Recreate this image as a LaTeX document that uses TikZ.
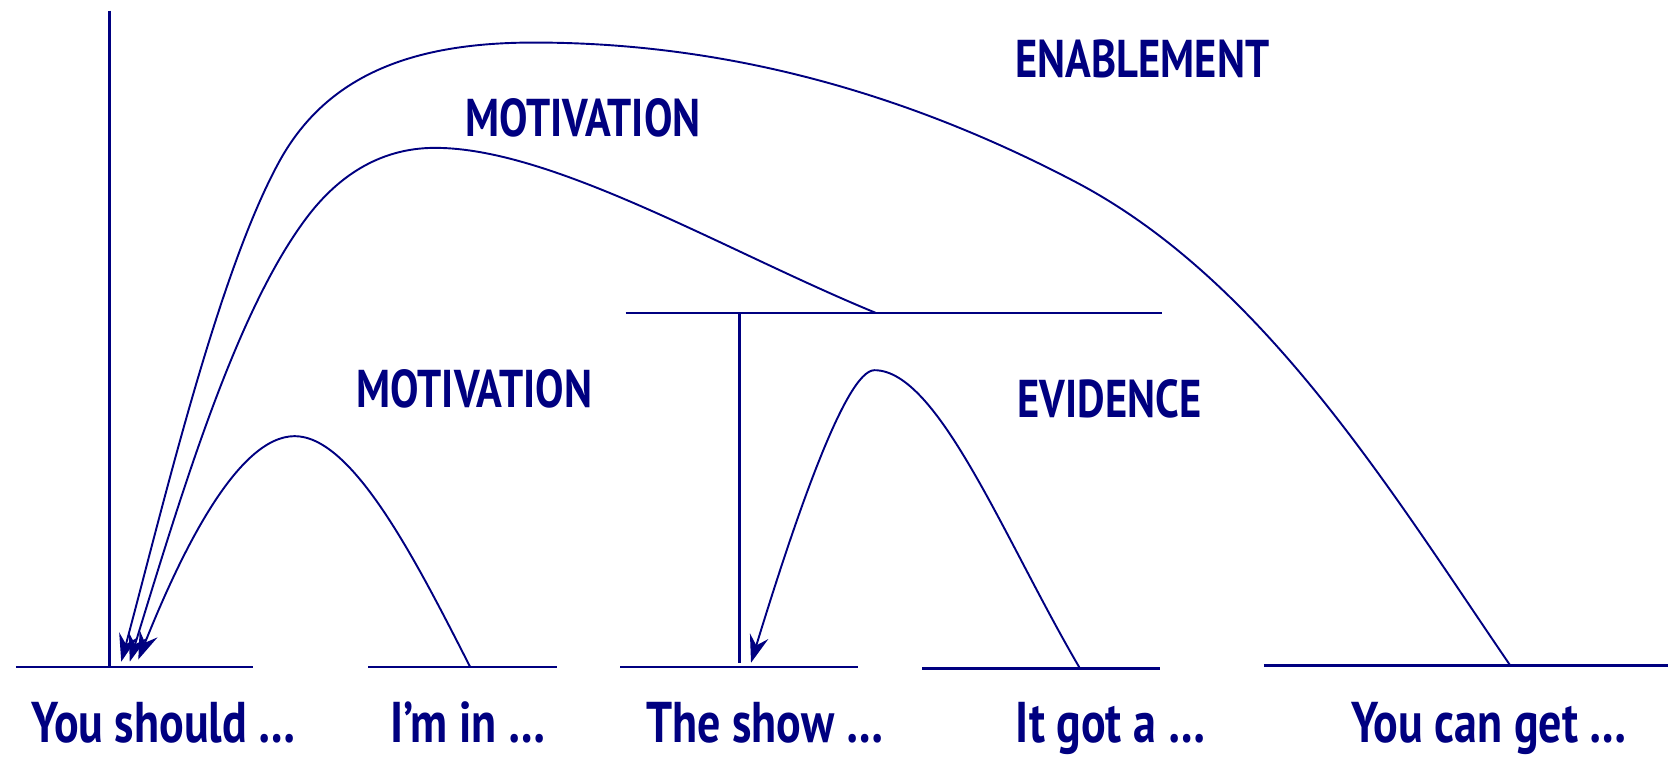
\documentclass[tikz,border=0pt]{standalone}
\usepackage{fontspec}
\setmainfont{PT Sans}[FakeStretch=0.8]
\usetikzlibrary{arrows.meta}
\definecolor{navyb}{RGB}{0,0,128}
\begin{document}
\begin{tikzpicture}[x=0.5pt,y=-0.5pt,
  lbl/.style={font=\bfseries\fontsize{25}{28}\selectfont, text=navyb, inner sep=0pt, anchor=base},
  blbl/.style={lbl, font=\bfseries\fontsize{27}{30}\selectfont},
  baseln/.style={draw=navyb, line width=1.4pt},
  vline/.style={draw=navyb, line width=1.1pt},
  rel/.style={draw=navyb, line width=0.9pt, -{Stealth[length=13pt,width=9pt,inset=4.5pt]}}]
\useasboundingbox (0,0) rectangle (1568,711);
% labels
\node[blbl] (t1) at (154,698) {You should \dots};
\node[blbl] (t2) at (440,698) {I’m in \dots};
\node[blbl] (t3) at (719,698) {The show \dots};
\node[blbl] (t4) at (1044,698) {It got a \dots};
\node[blbl] (t5) at (1400,698) {You can get \dots};
\node[lbl] (l1) at (1074,73) {ENABLEMENT};
\node[lbl] (l2) at (548,128) {MOTIVATION};
\node[lbl] (l3) at (446,383) {MOTIVATION};
\node[lbl] (l4) at (1043,392) {EVIDENCE};
% baselines
\coordinate (b1a) at (15,627); \coordinate (b1b) at (238,627);
\coordinate (b2a) at (346,627); \coordinate (b2b) at (524,627);
\coordinate (b3a) at (583,627); \coordinate (b3b) at (807,627);
\coordinate (b4a) at (867,628); \coordinate (b4b) at (1090,628);
\coordinate (b5a) at (1188,626); \coordinate (b5b) at (1568,626);
\draw[baseln] (b1a) -- (b1b);
\draw[baseln] (b2a) -- (b2b);
\draw[baseln] (b3a) -- (b3b);
\draw[baseln] (b4a) -- (b4b);
\draw[baseln] (b5a) -- (b5b);
% verticals and span line
\coordinate (v1t) at (103,10); \coordinate (v1b) at (103,627);
\draw[vline] (v1t) -- (v1b);
\coordinate (hsa) at (588,294); \coordinate (hsb) at (1092,294);
\draw[vline] (hsa) -- (hsb);
\coordinate (v2t) at (695,294); \coordinate (v2b) at (695,623);
\draw[vline] (v2t) -- (v2b);
% relation end points
\coordinate (e1s) at (1420,626); \coordinate (e1e) at (114,622);
\coordinate (m1s) at (823,294);  \coordinate (m1e) at (122,622);
\coordinate (m2s) at (442,627);  \coordinate (m2e) at (130,620);
\coordinate (evs) at (1015,628); \coordinate (eve) at (706,623);
% relations
\draw[rel] (e1s) .. controls (1307,461) and (1188,264) .. (1011,171)
  .. controls (851,87) and (682,40) .. (502,40)
  .. controls (392,40) and (309,68) .. (263,151)
  .. controls (205,256) and (153,477) .. (e1e);
\draw[rel] (m1s) .. controls (684,237) and (520,139) .. (409,139)
  .. controls (354,139) and (315,169) .. (288,205)
  .. controls (222,293) and (172,459) .. (m1e);
\draw[rel] (m2s) .. controls (392,529) and (332,410) .. (277,410)
  .. controls (222,410) and (168,525) .. (m2e);
\draw[rel] (evs) .. controls (944,507) and (882,348) .. (822,348)
  .. controls (795,348) and (747,489) .. (eve);
\end{tikzpicture}
\end{document}
